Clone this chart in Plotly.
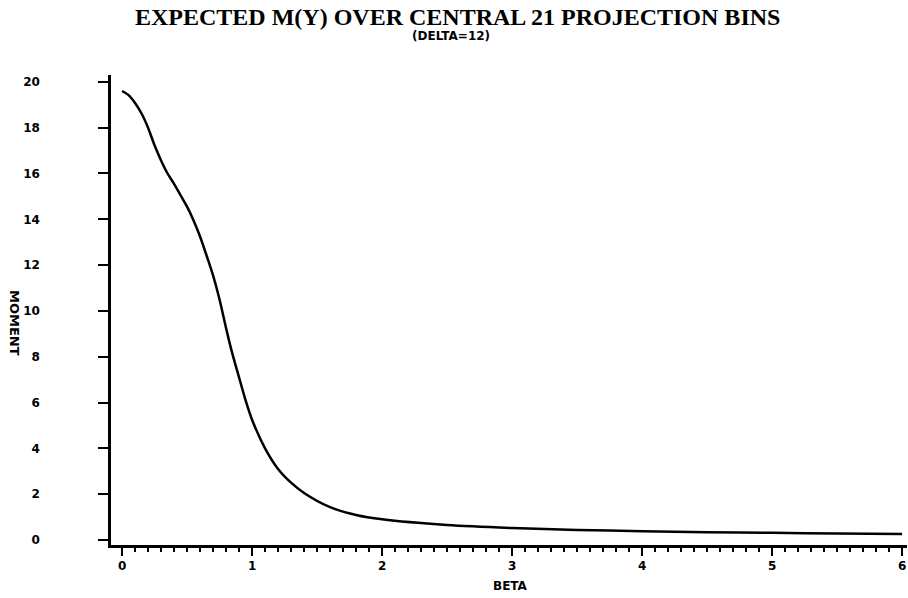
import plotly.graph_objects as go

beta = [0.0, 0.05, 0.1, 0.15, 0.2, 0.25, 0.3, 0.35, 0.4, 0.45, 0.5, 0.55, 0.6,
        0.65, 0.7, 0.75, 0.8, 0.85, 0.9, 0.95, 1.0, 1.1, 1.2, 1.3, 1.4, 1.6,
        1.8, 2.0, 2.5, 3.0, 3.5, 4.0, 4.5, 5.0, 5.5, 6.0]
moment = [19.6, 19.42, 19.08, 18.62, 18.0, 17.23, 16.57, 16.0, 15.55, 15.05, 14.55,
          13.95, 13.25, 12.42, 11.55, 10.5, 9.25, 8.1, 7.1, 6.1, 5.25, 4.0, 3.1,
          2.5, 2.05, 1.43, 1.09, 0.9, 0.65, 0.52, 0.44, 0.38, 0.34, 0.31, 0.28, 0.26]

x_ticks = [0, 1, 2, 3, 4, 5, 6]
y_ticks = [0, 2, 4, 6, 8, 10, 12, 14, 16, 18, 20]

title_text = "EXPECTED M(Y) OVER CENTRAL 21 PROJECTION BINS"
subtitle_text = "(DELTA=12)"
x_label = "BETA"
y_label = "MOMENT"

W, H = 908, 598
ML, MR, MT, MB = 111, 1, 75, 53
PW, PH = W - ML - MR, H - MT - MB

tick_font = dict(family="DejaVu Sans", size=12, color="black", weight="bold")


def px_x(p):
    return (p - ML) / PW


def px_y(p):
    return 1 + (MT - p) / PH


fig = go.Figure()
fig.add_trace(go.Scatter(x=beta, y=moment, mode="lines",
                         line=dict(color="black", width=2.5, shape="spline", smoothing=0.8),
                         showlegend=False, hoverinfo="skip"))

fig.update_layout(
    width=W, height=H,
    margin=dict(l=ML, r=MR, t=MT, b=MB),
    paper_bgcolor="white", plot_bgcolor="white",
    xaxis=dict(range=[-0.085, 6.038], tickvals=x_ticks, showgrid=False, zeroline=False,
               automargin=False,
               showline=True, linecolor="black", linewidth=2.5,
               ticks="outside", ticklen=8, tickwidth=2, tickcolor="black",
               tickfont=tick_font, ticklabelstandoff=0, ticklabeloverflow="allow",
               minor=dict(dtick=0.1, ticks="outside", ticklen=4, tickwidth=2,
                          tickcolor="black", showgrid=False)),
    yaxis=dict(range=[-0.22, 20.3], tickvals=y_ticks, showgrid=False, zeroline=False,
               automargin=False,
               showline=True, linecolor="black", linewidth=2.5,
               ticks="outside", ticklen=10, tickwidth=2, tickcolor="black",
               tickfont=tick_font, ticklabelstandoff=56),
    annotations=[
        dict(text=title_text, x=px_x(457), y=px_y(17), xref="paper", yref="paper",
             showarrow=False,
             font=dict(family="Liberation Serif", size=24, color="black", weight="bold"),
             yanchor="middle", xanchor="center"),
        dict(text=subtitle_text, x=px_x(451), y=px_y(36), xref="paper", yref="paper",
             showarrow=False,
             font=dict(family="DejaVu Sans", size=12, color="black", weight="bold"),
             yanchor="middle", xanchor="center"),
        dict(text=x_label, x=px_x(511), y=px_y(586), xref="paper", yref="paper",
             showarrow=False,
             font=dict(family="DejaVu Sans", size=12, color="black", weight="bold"),
             yanchor="middle", xanchor="center"),
        dict(text=y_label, x=px_x(15), y=px_y(323), xref="paper", yref="paper",
             textangle=90, showarrow=False,
             font=dict(family="DejaVu Sans", size=13, color="black", weight="bold"),
             yanchor="middle", xanchor="center"),
    ],
)

# remove the default page margin so the figure fills the 908x598 window
fig.write_html("out.html", config={"displayModeBar": False},
               post_script="document.body.style.margin='0';document.body.style.overflow='hidden';")
